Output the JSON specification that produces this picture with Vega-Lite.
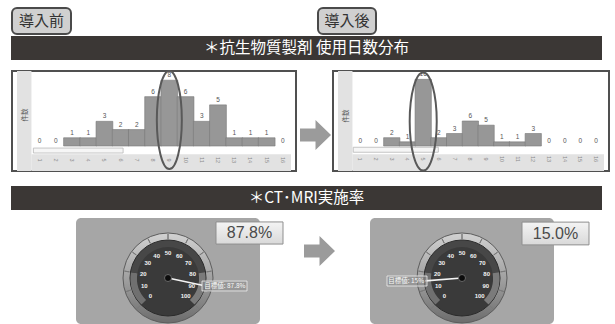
{
  "$schema": "https://vega.github.io/schema/vega-lite/v6.json",
  "padding": {"left": 11, "top": 7, "right": 0, "bottom": 0},
  "autosize": {"type": "pad"},
  "background": "white",
  "config": {
    "view": {"stroke": null},
    "font": "Noto Sans CJK JP",
    "locale": {"number": {"decimal": ".", "thousands": ",", "grouping": [3], "currency": ["目標値: ", "%"]}}
  },
  "datasets": {
    "before": [
      {"day": 1, "count": 0}, {"day": 2, "count": 0}, {"day": 3, "count": 1}, {"day": 4, "count": 1},
      {"day": 5, "count": 3}, {"day": 6, "count": 2}, {"day": 7, "count": 2}, {"day": 8, "count": 6},
      {"day": 9, "count": 8}, {"day": 10, "count": 6}, {"day": 11, "count": 3}, {"day": 12, "count": 5},
      {"day": 13, "count": 1}, {"day": 14, "count": 1}, {"day": 15, "count": 1}, {"day": 16, "count": 0}
    ],
    "after": [
      {"day": 1, "count": 0}, {"day": 2, "count": 0}, {"day": 3, "count": 2}, {"day": 4, "count": 1},
      {"day": 5, "count": 16}, {"day": 6, "count": 2}, {"day": 7, "count": 3}, {"day": 8, "count": 6},
      {"day": 9, "count": 5}, {"day": 10, "count": 1}, {"day": 11, "count": 1}, {"day": 12, "count": 3},
      {"day": 13, "count": 0}, {"day": 14, "count": 0}, {"day": 15, "count": 0}, {"day": 16, "count": 0}
    ],
    "ticks": [
      {"v": 0}, {"v": 10}, {"v": 20}, {"v": 30}, {"v": 40}, {"v": 50},
      {"v": 60}, {"v": 70}, {"v": 80}, {"v": 90}, {"v": 100}
    ],
    "bands": [
      {"from": 0, "to": 20, "zone": "low"},
      {"from": 20, "to": 80, "zone": "mid"},
      {"from": 80, "to": 100, "zone": "high"}
    ],
    "ctBefore": [{"rate": 0.878}],
    "ctAfter": [{"rate": 0.15}]
  },
  "spacing": 0,
  "vconcat": [
    {
      "hconcat": [
        {
          "width": 59, "height": 26,
          "view": {"fill": "#d0d0d0", "stroke": "#4a4a4a", "strokeWidth": 2, "cornerRadius": 5},
          "data": {"values": [{}]},
          "mark": {"type": "text", "text": "導入前", "fontSize": 15, "fill": "#333333"}
        },
        {"width": 245, "height": 26, "data": {"values": [{}]}, "mark": {"type": "point", "size": 0, "opacity": 0}, "encoding": {}},
        {
          "width": 58, "height": 26,
          "view": {"fill": "#d0d0d0", "stroke": "#4a4a4a", "strokeWidth": 2, "cornerRadius": 5},
          "data": {"values": [{}]},
          "mark": {"type": "text", "text": "導入後", "fontSize": 15, "fill": "#333333"}
        }
      ],
      "spacing": 0
    },
    {"width": 589, "height": 1, "data": {"values": [{}]}, "mark": {"type": "point", "size": 0, "opacity": 0, "strokeWidth": 0}, "encoding": {}},
    {
      "width": 589, "height": 22,
      "view": {"fill": "#3b3735", "stroke": "#3b3735", "strokeWidth": 2},
      "data": {"values": [{}]},
      "mark": {"type": "text", "text": "＊抗生物質製剤  使用日数分布", "fontSize": 15.5, "fill": "#ffffff"}
    },
    {"width": 589, "height": 6, "data": {"values": [{}]}, "mark": {"type": "point", "size": 0, "opacity": 0, "strokeWidth": 0}, "encoding": {}},
    {
      "hconcat": [
        {
          "width": 284, "height": 100,
          "view": {"fill": "#ffffff", "stroke": "#505050", "strokeWidth": 2},
          "layer": [
            {
              "data": {"values": [{}]},
              "mark": {"type": "rect", "fill": "#e2e2e2"},
              "encoding": {
                "x": {"datum": -0.39, "type": "quantitative", "scale": {"domain": [-0.39, 16.5], "nice": false, "zero": false}, "axis": null},
                "x2": {"datum": 0.5},
                "y": {"datum": -3.04, "type": "quantitative", "scale": {"domain": [-3.04, 9.12], "nice": false, "zero": false},
                      "axis": {"grid": true, "values": [3, 6, 9], "gridColor": "#cfcfcf", "gridWidth": 1, "labels": false, "ticks": false, "domain": false, "title": null}},
                "y2": {"datum": 9.12}
              }
            },
            {
              "data": {"values": [{}]},
              "mark": {"type": "rect", "fill": "#e2e2e2"},
              "encoding": {
                "x": {"datum": 0.5, "type": "quantitative", "scale": {"domain": [-0.39, 16.5], "nice": false, "zero": false}, "axis": null},
                "x2": {"datum": 16.5},
                "y": {"datum": -3.04, "type": "quantitative", "scale": {"domain": [-3.04, 9.12], "nice": false, "zero": false}, "axis": null},
                "y2": {"datum": -1}
              }
            },
            {
              "data": {"values": [{}]},
              "mark": {"type": "rect", "fill": "#f6f6f6", "stroke": "#b8b8b8", "strokeWidth": 0.8},
              "encoding": {
                "x": {"datum": 0.62, "type": "quantitative", "scale": {"domain": [-0.39, 16.5], "nice": false, "zero": false}, "axis": null},
                "x2": {"datum": 6.15},
                "y": {"datum": -0.25, "type": "quantitative", "scale": {"domain": [-3.04, 9.12], "nice": false, "zero": false}, "axis": null},
                "y2": {"datum": -0.85}
              }
            },
            {
              "data": {"name": "before"},
              "transform": [{"filter": "datum.count > 0"}],
              "mark": {"type": "bar", "orient": "vertical", "width": 16.8, "fill": "#979797", "stroke": "#787878", "strokeWidth": 0.6},
              "encoding": {
                "x": {"field": "day", "type": "quantitative", "scale": {"domain": [-0.39, 16.5], "nice": false, "zero": false}, "axis": null},
                "y": {"field": "count", "type": "quantitative", "scale": {"domain": [-3.04, 9.12], "nice": false, "zero": false}, "axis": null},
                "y2": {"datum": 0}
              }
            },
            {
              "data": {"name": "before"},
              "mark": {"type": "text", "baseline": "bottom", "dy": -2, "fontSize": 6.5, "font": "Liberation Sans", "fill": "#555555"},
              "encoding": {
                "x": {"field": "day", "type": "quantitative", "scale": {"domain": [-0.39, 16.5], "nice": false, "zero": false}, "axis": null},
                "y": {"field": "count", "type": "quantitative", "scale": {"domain": [-3.04, 9.12], "nice": false, "zero": false}, "axis": null},
                "text": {"field": "count", "type": "quantitative"}
              }
            },
            {
              "data": {"name": "before"},
              "mark": {"type": "text", "angle": 90, "fontSize": 5.5, "font": "Liberation Sans", "fill": "#8a8a8a"},
              "encoding": {
                "x": {"field": "day", "type": "quantitative", "scale": {"domain": [-0.39, 16.5], "nice": false, "zero": false}, "axis": null},
                "y": {"datum": -1.7, "type": "quantitative", "scale": {"domain": [-3.04, 9.12], "nice": false, "zero": false}, "axis": null},
                "text": {"field": "day", "type": "quantitative"}
              }
            },
            {
              "data": {"values": [{}]},
              "mark": {"type": "text", "text": "件数", "angle": 270, "fontSize": 6.5, "fill": "#555555"},
              "encoding": {
                "x": {"datum": 0.09, "type": "quantitative", "scale": {"domain": [-0.39, 16.5], "nice": false, "zero": false}, "axis": null},
                "y": {"datum": 3.77, "type": "quantitative", "scale": {"domain": [-3.04, 9.12], "nice": false, "zero": false}, "axis": null}
              }
            },
            {
              "data": {"values": [{}]},
              "mark": {"type": "point", "shape": "M0,-1C0.141,-1,0.255,-0.552,0.255,0C0.255,0.552,0.141,1,0,1C-0.141,1,-0.255,0.552,-0.255,0C-0.255,-0.552,-0.141,-1,0,-1Z",
                       "size": 9604, "filled": false, "stroke": "#595959", "strokeWidth": 2, "opacity": 1},
              "encoding": {
                "x": {"datum": 9, "type": "quantitative", "scale": {"domain": [-0.39, 16.5], "nice": false, "zero": false}, "axis": null},
                "y": {"datum": 3.16, "type": "quantitative", "scale": {"domain": [-3.04, 9.12], "nice": false, "zero": false}, "axis": null}
              }
            }
          ]
        },
        {
          "vconcat": [
            {"width": 33, "height": 48, "data": {"values": [{}]}, "mark": {"type": "point", "size": 0, "opacity": 0, "strokeWidth": 0}, "encoding": {}},
            {
              "width": 33, "height": 30,
              "data": {"values": [{}]},
              "mark": {"type": "point", "shape": "M-0.87,-0.42L0.13,-0.42L0.13,-0.97L1.13,0L0.13,0.97L0.13,0.42L-0.87,0.42Z",
                       "size": 961, "filled": true, "color": "#9b9b9b", "opacity": 1, "strokeWidth": 0},
              "encoding": {}
            }
          ],
          "spacing": 0
        },
        {
          "width": 276, "height": 100,
          "view": {"fill": "#ffffff", "stroke": "#505050", "strokeWidth": 2},
          "layer": [
            {
              "data": {"values": [{}]},
              "mark": {"type": "rect", "fill": "#e2e2e2"},
              "encoding": {
                "x": {"datum": -0.42, "type": "quantitative", "scale": {"domain": [-0.42, 16.5], "nice": false, "zero": false}, "axis": null},
                "x2": {"datum": 0.5},
                "y": {"datum": -6, "type": "quantitative", "scale": {"domain": [-6, 18], "nice": false, "zero": false},
                      "axis": {"grid": true, "values": [1, 2, 3, 4, 5, 6, 7, 8, 9, 10, 11, 12, 13, 14, 15, 16, 17], "gridColor": "#d9d9d9", "gridWidth": 1, "labels": false, "ticks": false, "domain": false, "title": null}},
                "y2": {"datum": 18}
              }
            },
            {
              "data": {"values": [{}]},
              "mark": {"type": "rect", "fill": "#e2e2e2"},
              "encoding": {
                "x": {"datum": 0.5, "type": "quantitative", "scale": {"domain": [-0.42, 16.5], "nice": false, "zero": false}, "axis": null},
                "x2": {"datum": 16.5},
                "y": {"datum": -6, "type": "quantitative", "scale": {"domain": [-6, 18], "nice": false, "zero": false}, "axis": null},
                "y2": {"datum": -2}
              }
            },
            {
              "data": {"values": [{}]},
              "mark": {"type": "rect", "fill": "#f6f6f6", "stroke": "#b8b8b8", "strokeWidth": 0.8},
              "encoding": {
                "x": {"datum": 0.55, "type": "quantitative", "scale": {"domain": [-0.42, 16.5], "nice": false, "zero": false}, "axis": null},
                "x2": {"datum": 5.96},
                "y": {"datum": -0.3, "type": "quantitative", "scale": {"domain": [-6, 18], "nice": false, "zero": false}, "axis": null},
                "y2": {"datum": -1.5}
              }
            },
            {
              "data": {"name": "after"},
              "transform": [{"filter": "datum.count > 0"}],
              "mark": {"type": "bar", "orient": "vertical", "width": 16.3, "fill": "#979797", "stroke": "#787878", "strokeWidth": 0.6},
              "encoding": {
                "x": {"field": "day", "type": "quantitative", "scale": {"domain": [-0.42, 16.5], "nice": false, "zero": false}, "axis": null},
                "y": {"field": "count", "type": "quantitative", "scale": {"domain": [-6, 18], "nice": false, "zero": false}, "axis": null},
                "y2": {"datum": 0}
              }
            },
            {
              "data": {"name": "after"},
              "mark": {"type": "text", "baseline": "bottom", "dy": -2, "fontSize": 6.5, "font": "Liberation Sans", "fill": "#555555"},
              "encoding": {
                "x": {"field": "day", "type": "quantitative", "scale": {"domain": [-0.42, 16.5], "nice": false, "zero": false}, "axis": null},
                "y": {"field": "count", "type": "quantitative", "scale": {"domain": [-6, 18], "nice": false, "zero": false}, "axis": null},
                "text": {"field": "count", "type": "quantitative"}
              }
            },
            {
              "data": {"name": "after"},
              "mark": {"type": "text", "angle": 90, "fontSize": 5.5, "font": "Liberation Sans", "fill": "#8a8a8a"},
              "encoding": {
                "x": {"field": "day", "type": "quantitative", "scale": {"domain": [-0.42, 16.5], "nice": false, "zero": false}, "axis": null},
                "y": {"datum": -3.12, "type": "quantitative", "scale": {"domain": [-6, 18], "nice": false, "zero": false}, "axis": null},
                "text": {"field": "day", "type": "quantitative"}
              }
            },
            {
              "data": {"values": [{}]},
              "mark": {"type": "text", "text": "件数", "angle": 270, "fontSize": 6.5, "fill": "#555555"},
              "encoding": {
                "x": {"datum": 0.07, "type": "quantitative", "scale": {"domain": [-0.42, 16.5], "nice": false, "zero": false}, "axis": null},
                "y": {"datum": 7.2, "type": "quantitative", "scale": {"domain": [-6, 18], "nice": false, "zero": false}, "axis": null}
              }
            },
            {
              "data": {"values": [{}]},
              "mark": {"type": "point", "shape": "M0,-1C0.152,-1,0.276,-0.552,0.276,0C0.276,0.552,0.152,1,0,1C-0.152,1,-0.276,0.552,-0.276,0C-0.276,-0.552,-0.152,-1,0,-1Z",
                       "size": 9604, "filled": false, "stroke": "#595959", "strokeWidth": 2, "opacity": 1},
              "encoding": {
                "x": {"datum": 5, "type": "quantitative", "scale": {"domain": [-0.42, 16.5], "nice": false, "zero": false}, "axis": null},
                "y": {"datum": 5.88, "type": "quantitative", "scale": {"domain": [-6, 18], "nice": false, "zero": false}, "axis": null}
              }
            }
          ]
        }
      ],
      "spacing": 0
    },
    {"width": 589, "height": 10, "data": {"values": [{}]}, "mark": {"type": "point", "size": 0, "opacity": 0, "strokeWidth": 0}, "encoding": {}},
    {
      "width": 589, "height": 22,
      "view": {"fill": "#3b3735", "stroke": "#3b3735", "strokeWidth": 2},
      "data": {"values": [{}]},
      "mark": {"type": "text", "text": "＊CT･MRI実施率", "fontSize": 15.5, "fill": "#ffffff"}
    },
    {"width": 589, "height": 8, "data": {"values": [{}]}, "mark": {"type": "point", "size": 0, "opacity": 0, "strokeWidth": 0}, "encoding": {}},
    {
      "hconcat": [
        {"width": 64, "height": 2, "data": {"values": [{}]}, "mark": {"type": "point", "size": 0, "opacity": 0, "strokeWidth": 0}, "encoding": {}},
        {
          "width": 184, "height": 106,
          "view": {"fill": "#a6a6a6", "stroke": null, "cornerRadius": 5},
          "resolve": {"scale": {"theta": "independent", "color": "independent"}},
          "layer": [
            {
              "data": {"values": [{}]},
              "mark": {"type": "arc", "theta": 0, "theta2": 6.2832, "outerRadius": 45, "innerRadius": 0, "yOffset": 7,
                       "fill": {"gradient": "linear", "x1": 0, "y1": 0, "x2": 0, "y2": 1,
                                "stops": [{"offset": 0, "color": "#d2d2d2"}, {"offset": 0.55, "color": "#9c9c9c"}, {"offset": 1, "color": "#6c6c6c"}]},
                       "stroke": "#5c5c5c", "strokeWidth": 1},
              "encoding": {}
            },
            {
              "data": {"name": "ticks"},
              "mark": {"type": "arc", "outerRadius": 44, "innerRadius": 39, "yOffset": 7, "fill": "transparent", "stroke": "#7a7a7a", "strokeWidth": 1},
              "encoding": {
                "theta": {"field": "v", "type": "quantitative", "stack": null, "scale": {"domain": [0, 100], "range": [-2.356, 2.356]}},
                "theta2": {"field": "v"}
              }
            },
            {
              "data": {"values": [{}]},
              "mark": {"type": "arc", "theta": 0, "theta2": 6.2832, "outerRadius": 38, "innerRadius": 0, "yOffset": 7, "fill": "#3a3a3a", "stroke": "#2a2a2a", "strokeWidth": 1},
              "encoding": {}
            },
            {
              "data": {"name": "bands"},
              "mark": {"type": "arc", "outerRadius": 37.5, "innerRadius": 31, "yOffset": 7},
              "encoding": {
                "theta": {"field": "from", "type": "quantitative", "stack": null, "scale": {"domain": [0, 100], "range": [-2.356, 2.356]}},
                "theta2": {"field": "to"},
                "color": {"field": "zone", "type": "nominal", "scale": {"domain": ["low", "mid", "high"], "range": ["#707070", "#474747", "#7b7b7b"]}, "legend": null}
              }
            },
            {
              "data": {"name": "ticks"},
              "mark": {"type": "text", "radius": 25, "yOffset": 7, "fontSize": 6, "fontWeight": "bold", "font": "Liberation Sans", "fill": "#f2f2f2"},
              "encoding": {
                "theta": {"field": "v", "type": "quantitative", "stack": null, "scale": {"domain": [0, 100], "range": [-2.356, 2.356]}},
                "text": {"field": "v", "type": "quantitative"}
              }
            },
            {
              "data": {"name": "ctBefore"},
              "mark": {"type": "arc", "outerRadius": 35, "innerRadius": 0, "yOffset": 7, "fill": "transparent", "stroke": "#f4f4f4", "strokeWidth": 1.6},
              "encoding": {
                "theta": {"field": "rate", "type": "quantitative", "stack": null, "scale": {"domain": [0, 1], "range": [-2.356, 2.356]}},
                "theta2": {"field": "rate"}
              }
            },
            {
              "data": {"values": [{}]},
              "mark": {"type": "arc", "theta": 0, "theta2": 6.2832, "outerRadius": 3.5, "innerRadius": 0, "yOffset": 7, "fill": "#0c0c0c", "stroke": "#777777", "strokeWidth": 0.8},
              "encoding": {}
            },
            {
              "data": {"values": [{}]},
              "mark": {"type": "point", "shape": "M-1,-0.22L1,-0.22L1,0.22L-1,0.22Z", "size": 2025, "xOffset": 56.5, "yOffset": 15,
                       "filled": true, "opacity": 1, "fill": "#8e8e8e", "fillOpacity": 0.6, "stroke": "#f0f0f0", "strokeWidth": 0.8},
              "encoding": {}
            },
            {
              "data": {"name": "ctBefore"},
              "mark": {"type": "text", "radius": 37, "yOffset": 7, "align": "left", "baseline": "middle", "fontSize": 6.5, "fill": "#fafafa"},
              "encoding": {
                "theta": {"field": "rate", "type": "quantitative", "stack": null, "scale": {"domain": [0, 1], "range": [-2.356, 2.356]}},
                "text": {"field": "rate", "type": "quantitative", "format": "$~%"}
              }
            },
            {
              "data": {"values": [{}]},
              "mark": {"type": "point", "shape": "M-1,-0.33L1,-0.33L1,0.33L-1,0.33Z", "size": 4489, "xOffset": 81.5, "yOffset": -38,
                       "filled": true, "opacity": 1,
                       "fill": {"gradient": "linear", "x1": 0, "y1": 0, "x2": 0, "y2": 1, "stops": [{"offset": 0, "color": "#f4f4f4"}, {"offset": 1, "color": "#d9d9d9"}]},
                       "stroke": "#8f8f8f", "strokeWidth": 1},
              "encoding": {}
            },
            {
              "data": {"name": "ctBefore"},
              "mark": {"type": "text", "xOffset": 81.5, "yOffset": -38, "fontSize": 16, "font": "Liberation Sans", "fill": "#4a4a4a"},
              "encoding": {"text": {"field": "rate", "type": "quantitative", "format": ".1%"}}
            }
          ]
        },
        {"width": 19, "height": 2, "data": {"values": [{}]}, "mark": {"type": "point", "size": 0, "opacity": 0, "strokeWidth": 0}, "encoding": {}},
        {
          "vconcat": [
            {"width": 31, "height": 17, "data": {"values": [{}]}, "mark": {"type": "point", "size": 0, "opacity": 0, "strokeWidth": 0}, "encoding": {}},
            {
              "width": 31, "height": 30,
              "data": {"values": [{}]},
              "mark": {"type": "point", "shape": "M-1,-0.42L0,-0.42L0,-0.97L1,0L0,0.97L0,0.42L-1,0.42Z",
                       "size": 961, "filled": true, "color": "#9b9b9b", "opacity": 1, "strokeWidth": 0},
              "encoding": {}
            }
          ],
          "spacing": 0
        },
        {"width": 35, "height": 2, "data": {"values": [{}]}, "mark": {"type": "point", "size": 0, "opacity": 0, "strokeWidth": 0}, "encoding": {}},
        {
          "width": 184, "height": 106,
          "view": {"fill": "#a6a6a6", "stroke": null, "cornerRadius": 5},
          "resolve": {"scale": {"theta": "independent", "color": "independent"}},
          "layer": [
            {
              "data": {"values": [{}]},
              "mark": {"type": "arc", "theta": 0, "theta2": 6.2832, "outerRadius": 45, "innerRadius": 0, "yOffset": 7,
                       "fill": {"gradient": "linear", "x1": 0, "y1": 0, "x2": 0, "y2": 1,
                                "stops": [{"offset": 0, "color": "#d2d2d2"}, {"offset": 0.55, "color": "#9c9c9c"}, {"offset": 1, "color": "#6c6c6c"}]},
                       "stroke": "#5c5c5c", "strokeWidth": 1},
              "encoding": {}
            },
            {
              "data": {"name": "ticks"},
              "mark": {"type": "arc", "outerRadius": 44, "innerRadius": 39, "yOffset": 7, "fill": "transparent", "stroke": "#7a7a7a", "strokeWidth": 1},
              "encoding": {
                "theta": {"field": "v", "type": "quantitative", "stack": null, "scale": {"domain": [0, 100], "range": [-2.356, 2.356]}},
                "theta2": {"field": "v"}
              }
            },
            {
              "data": {"values": [{}]},
              "mark": {"type": "arc", "theta": 0, "theta2": 6.2832, "outerRadius": 38, "innerRadius": 0, "yOffset": 7, "fill": "#3a3a3a", "stroke": "#2a2a2a", "strokeWidth": 1},
              "encoding": {}
            },
            {
              "data": {"name": "bands"},
              "mark": {"type": "arc", "outerRadius": 37.5, "innerRadius": 31, "yOffset": 7},
              "encoding": {
                "theta": {"field": "from", "type": "quantitative", "stack": null, "scale": {"domain": [0, 100], "range": [-2.356, 2.356]}},
                "theta2": {"field": "to"},
                "color": {"field": "zone", "type": "nominal", "scale": {"domain": ["low", "mid", "high"], "range": ["#707070", "#474747", "#7b7b7b"]}, "legend": null}
              }
            },
            {
              "data": {"name": "ticks"},
              "mark": {"type": "text", "radius": 25, "yOffset": 7, "fontSize": 6, "fontWeight": "bold", "font": "Liberation Sans", "fill": "#f2f2f2"},
              "encoding": {
                "theta": {"field": "v", "type": "quantitative", "stack": null, "scale": {"domain": [0, 100], "range": [-2.356, 2.356]}},
                "text": {"field": "v", "type": "quantitative"}
              }
            },
            {
              "data": {"name": "ctAfter"},
              "mark": {"type": "arc", "outerRadius": 37, "innerRadius": 0, "yOffset": 7, "fill": "transparent", "stroke": "#f4f4f4", "strokeWidth": 1.6},
              "encoding": {
                "theta": {"field": "rate", "type": "quantitative", "stack": null, "scale": {"domain": [0, 1], "range": [-2.356, 2.356]}},
                "theta2": {"field": "rate"}
              }
            },
            {
              "data": {"values": [{}]},
              "mark": {"type": "arc", "theta": 0, "theta2": 6.2832, "outerRadius": 3.5, "innerRadius": 0, "yOffset": 7, "fill": "#0c0c0c", "stroke": "#777777", "strokeWidth": 0.8},
              "encoding": {}
            },
            {
              "data": {"values": [{}]},
              "mark": {"type": "point", "shape": "M-1,-0.25L1,-0.25L1,0.25L-1,0.25Z", "size": 1600, "xOffset": -55, "yOffset": 10,
                       "filled": true, "opacity": 1, "fill": "#8e8e8e", "fillOpacity": 0.6, "stroke": "#f0f0f0", "strokeWidth": 0.8},
              "encoding": {}
            },
            {
              "data": {"name": "ctAfter"},
              "mark": {"type": "text", "radius": 38, "yOffset": 7, "align": "right", "baseline": "middle", "fontSize": 6.5, "fill": "#fafafa"},
              "encoding": {
                "theta": {"field": "rate", "type": "quantitative", "stack": null, "scale": {"domain": [0, 1], "range": [-2.356, 2.356]}},
                "text": {"field": "rate", "type": "quantitative", "format": "$~%"}
              }
            },
            {
              "data": {"values": [{}]},
              "mark": {"type": "point", "shape": "M-1,-0.34L1,-0.34L1,0.34L-1,0.34Z", "size": 4489, "xOffset": 93.5, "yOffset": -37.5,
                       "filled": true, "opacity": 1,
                       "fill": {"gradient": "linear", "x1": 0, "y1": 0, "x2": 0, "y2": 1, "stops": [{"offset": 0, "color": "#f4f4f4"}, {"offset": 1, "color": "#d9d9d9"}]},
                       "stroke": "#8f8f8f", "strokeWidth": 1},
              "encoding": {}
            },
            {
              "data": {"name": "ctAfter"},
              "mark": {"type": "text", "xOffset": 93.5, "yOffset": -37.5, "fontSize": 16, "font": "Liberation Sans", "fill": "#4a4a4a"},
              "encoding": {"text": {"field": "rate", "type": "quantitative", "format": ".1%"}}
            }
          ]
        }
      ],
      "spacing": 0
    }
  ]
}
